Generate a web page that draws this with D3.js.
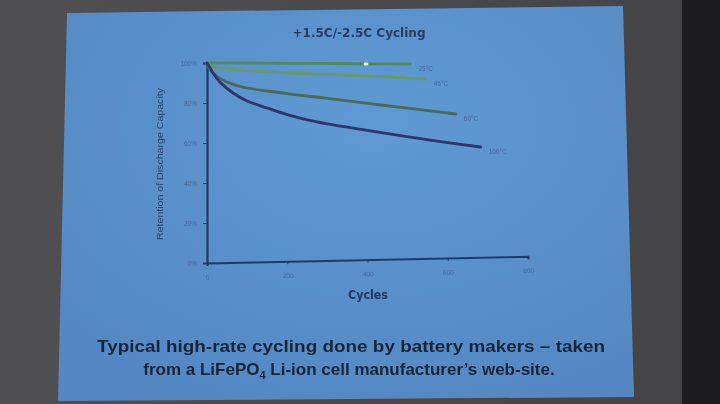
<!DOCTYPE html>
<html><head><meta charset="utf-8">
<script src="https://cdn.jsdelivr.net/npm/d3@7"></script>
<style>html,body{margin:0;padding:0;background:#444;overflow:hidden}</style>
</head><body>
<svg id="c" width="720" height="404"></svg>
<script>
// ---- data ----
const chartTitle = "+1.5C/-2.5C Cycling";
const xAxisTitle = "Cycles";
const yAxisTitle = "Retention of Discharge Capacity";
const xTickValues = [0, 200, 400, 600, 800];
const yTickValues = [0, 20, 40, 60, 80, 100];
const seriesNames = ["25°C", "45°C", "60°C", "100°C"];
const cyclesA = [0, 100, 200, 300, 400, 507];
const retentionA = [100, 100, 99.8, 99.8, 99.6, 99.5];
const cyclesB = [0, 10, 20, 50, 82, 150, 200, 300, 397, 450, 545];
const retentionB = [100, 98.6, 97.8, 97, 96.5, 95.6, 95, 94.3, 93.5, 93, 92];
const cyclesC = [0, 5, 15, 32, 65, 100, 150, 200, 250, 300, 400, 500, 620];
const retentionC = [100, 97.5, 95, 92.3, 89.3, 87.5, 86, 84.7, 83.5, 82.3, 79.8, 77.4, 74.5];
const cyclesD = [0, 8, 15, 32, 65, 100, 150, 200, 250, 300, 357, 400, 482, 582, 682];
const retentionD = [100, 97.5, 95, 90.5, 85, 81, 77.5, 74.2, 71.6, 69.6, 67.7, 66.3, 63.7, 60.7, 58];
const captionLine1 = "Typical high-rate cycling done by battery makers \u2013 taken";
const captionLine2 = ["from a LiFePO", "4", " Li-ion cell manufacturer\u2019s web-site."];

// ---- drawing ----
const svg = d3.select("#c");
const defs = svg.append("defs");
defs.append("filter").attr("id", "soft").attr("x", "-5%").attr("y", "-5%").attr("width", "110%").attr("height", "110%")
  .append("feGaussianBlur").attr("stdDeviation", 0.55);
const bgGrad = defs.append("linearGradient").attr("id", "bg").attr("x1", 0).attr("x2", 1).attr("y1", 0).attr("y2", 0);
bgGrad.append("stop").attr("offset", 0).attr("stop-color", "#505052");
bgGrad.append("stop").attr("offset", 0.9).attr("stop-color", "#454547");
bgGrad.append("stop").attr("offset", 1).attr("stop-color", "#3a3a3c");
svg.append("rect").attr("width", 720).attr("height", 404).attr("fill", "url(#bg)");
svg.append("rect").attr("x", 682).attr("width", 38).attr("height", 404).attr("fill", "#1d1d1f");
svg.append("rect").attr("x", 640).attr("width", 42).attr("height", 404).attr("fill", "#454548");

const slideGrad = defs.append("radialGradient").attr("id", "slide").attr("cx", 0.55).attr("cy", 0.3).attr("r", 0.75);
slideGrad.append("stop").attr("offset", 0).attr("stop-color", "#6099d2");
slideGrad.append("stop").attr("offset", 1).attr("stop-color", "#5588c2");
svg.append("polygon")
  .attr("points", "67,13 623,6 634,397 58,401")
  .attr("fill", "url(#slide)");

const root = svg.append("g").attr("filter", "url(#soft)");

const x = d3.scaleLinear().domain([0, 800]).range([207, 528]);
const y = d3.scaleLinear().domain([0, 100]).range([263, 63]);
const axisColor = "#1f3a68";
const faint = "#46699c";

// y axis
const gy = root.append("g").attr("transform", "translate(207,0)")
  .call(d3.axisLeft(y).tickValues(yTickValues).tickFormat(d => d + "%").tickSize(4).tickPadding(6));
gy.select(".domain").attr("stroke", axisColor).attr("stroke-width", 2.2);
gy.selectAll(".tick line").attr("stroke", axisColor).attr("stroke-width", 1);
gy.selectAll(".tick text").attr("fill", faint).attr("font-size", 6.5).attr("font-family", "Liberation Sans, Arial, sans-serif");

// x axis (slight perspective tilt)
const gx = root.append("g").attr("transform", "translate(0,263) rotate(-1.2,207,0)")
  .call(d3.axisBottom(x).tickValues(xTickValues).tickSize(3).tickPadding(9));
gx.select(".domain").attr("stroke", axisColor).attr("stroke-width", 2.2);
gx.selectAll(".tick line").attr("stroke", axisColor).attr("stroke-width", 1);
gx.selectAll(".tick text").attr("fill", faint).attr("font-size", 6.5).attr("font-family", "Liberation Sans, Arial, sans-serif");

// series
const series = [
  { name: seriesNames[0], c: cyclesA, v: retentionA, color: "#4d8a60" },
  { name: seriesNames[1], c: cyclesB, v: retentionB, color: "#66986f" },
  { name: seriesNames[2], c: cyclesC, v: retentionC, color: "#486b5c" },
  { name: seriesNames[3], c: cyclesD, v: retentionD, color: "#2d366a" }
];
const line = d3.line().x(d => x(d[0])).y(d => y(d[1])).curve(d3.curveCatmullRom.alpha(0.5));
series.forEach(s => {
  const pts = s.c.map((c, i) => [c, s.v[i]]);
  root.append("path").attr("d", line(pts)).attr("fill", "none")
    .attr("stroke", s.color).attr("stroke-width", 2.8).attr("stroke-linecap", "round");
  const last = pts[pts.length - 1];
  root.append("text").attr("x", x(last[0]) + 8).attr("y", y(last[1]) + 7)
    .attr("font-size", 6.5).attr("fill", faint).attr("font-family", "Liberation Sans, Arial, sans-serif")
    .text(s.name);
});

// laser pointer spot
root.append("ellipse").attr("cx", 366).attr("cy", 64).attr("rx", 2.5).attr("ry", 1.8).attr("fill", "#e4f6dc");

// titles
root.append("text").attr("x", 359).attr("y", 37).attr("text-anchor", "middle")
  .attr("font-family", "DejaVu Sans Condensed, Liberation Sans Narrow, sans-serif").attr("font-size", 12)
  .attr("font-weight", 600).attr("fill", "#2a3d5e")
  .attr("textLength", 133).attr("lengthAdjust", "spacingAndGlyphs").text(chartTitle);
root.append("text").attr("x", 368).attr("y", 299).attr("text-anchor", "middle")
  .attr("font-family", "DejaVu Sans Condensed, Liberation Sans Narrow, sans-serif").attr("font-size", 12)
  .attr("font-weight", 600).attr("fill", "#213760")
  .attr("textLength", 40).attr("lengthAdjust", "spacingAndGlyphs").text(xAxisTitle);
root.append("text").attr("transform", "translate(163,164) rotate(-90)").attr("text-anchor", "middle")
  .attr("font-family", "Liberation Sans, Arial, sans-serif").attr("font-size", 9.5)
  .attr("fill", "#284470")
  .attr("textLength", 152).attr("lengthAdjust", "spacingAndGlyphs").text(yAxisTitle);

// caption
root.append("text").attr("x", 351).attr("y", 352).attr("text-anchor", "middle")
  .attr("font-family", "Liberation Sans, Arial, sans-serif").attr("font-size", 17).attr("font-weight", "bold")
  .attr("fill", "#182538").attr("textLength", 508).attr("lengthAdjust", "spacingAndGlyphs").text(captionLine1);
const cap2 = root.append("text").attr("x", 349).attr("y", 375).attr("text-anchor", "middle")
  .attr("font-family", "Liberation Sans, Arial, sans-serif").attr("font-size", 17).attr("font-weight", "bold")
  .attr("fill", "#182538");
cap2.append("tspan").text(captionLine2[0]);
cap2.append("tspan").attr("dy", 4).attr("font-size", 11).text(captionLine2[1]);
cap2.append("tspan").attr("dy", -4).text(captionLine2[2]);
</script>
</body></html>
